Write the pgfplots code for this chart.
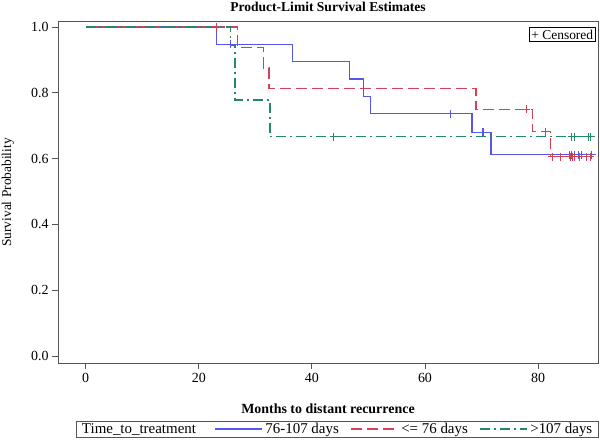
\documentclass[border=0pt]{standalone}
\usepackage{fontspec}
\setmainfont{Liberation Serif}
\usepackage{pgfplots}
\pgfplotsset{compat=1.18}
\definecolor{cblue}{RGB}{85,85,240}
\definecolor{cred}{RGB}{210,65,85}
\definecolor{cgreen}{RGB}{35,135,105}
\definecolor{cframe}{RGB}{85,85,85}
\begin{document}
\begin{tikzpicture}[font=\fontsize{14}{16}\selectfont]
\useasboundingbox (-58bp,-79.7bp) rectangle (542bp,363.3bp);
\begin{axis}[
  at={(0,0)}, anchor=south west, scale only axis,
  width=540bp, height=341.6bp,
  font=\fontsize{14}{16}\selectfont,
  xmin=-4.9, xmax=90.6, ymin=-0.022, ymax=1.016,
  xtick={0,20,40,60,80}, ytick={0,0.2,0.4,0.6,0.8,1.0},
  yticklabel style={/pgf/number format/.cd, fixed, fixed zerofill, precision=1},
  ticklabel style={font=\fontsize{14}{16}\selectfont},
  /pgf/number format/assume math mode=true,
  tick align=outside, xtick pos=bottom, ytick pos=left,
  major tick length=6bp,
  axis line style={cframe, line width=1pt},
  every tick/.style={cframe, line width=0.9pt},
  title={\bfseries Product-Limit Survival Estimates},
  title style={at={(axis description cs:0.5,1.0284)}, anchor=base, yshift=-5pt,
    font=\fontsize{13.6}{15}\selectfont},
  xlabel={\bfseries Months to distant recurrence},
  xlabel style={at={(axis description cs:0.5,-0.1338)}, anchor=center},
  ylabel={Survival Probability},
  ylabel style={at={(axis description cs:-0.0926,0.5)}, anchor=center, rotate=0,
    font=\fontsize{13.5}{15}\selectfont},
  legend columns=4,
  legend style={name=leg, at={(axis description cs:1,-0.169)}, anchor=north east,
    draw=none, inner xsep=2.5bp, inner ysep=1bp,
    font=\fontsize{15}{17}\selectfont,
    nodes={inner xsep=3bp, inner ysep=1bp},
    /tikz/column 2/.style={column sep=15bp},
    /tikz/column 4/.style={column sep=8bp},
    /tikz/column 6/.style={column sep=8bp}},
  legend image code/.code={\draw[#1, line width=1.4bp] (0bp,0bp) -- (47bp,0bp);},
]
\addlegendimage{empty legend}
\addlegendentry{Time\_to\_treatment}

\addplot[draw=cblue, line width=1.4bp, const plot] coordinates {
  (0,1) (23.1,0.947) (36.6,0.895) (46.6,0.842) (49.1,0.789) (50.4,0.737)
  (68.3,0.680) (71.7,0.612) (89.7,0.612)};
\addlegendentry{76-107 days}

\addplot[draw=cred, line width=1.4bp, const plot, dash pattern=on 11bp off 5bp] coordinates {
  (0,1) (26.8,0.9375) (31.4,0.875) (32.4,0.8125) (69.0,0.75) (79.0,0.682)
  (82.2,0.606) (89.5,0.606)};
\addlegendentry{<= 76 days}

\addplot[draw=cgreen, line width=1.4bp, const plot, dash pattern=on 10bp off 4bp on 2bp off 4bp] coordinates {
  (0,1) (25.6,0.944) (26.4,0.778) (32.6,0.667) (89.7,0.667)};
\addlegendentry{>107 days}

% censored marks
\addplot[draw=cblue, only marks, mark=+, mark size=4bp, mark options={solid, draw=cblue, line width=1bp}, forget plot] coordinates {
  (25.6,0.947) (64.5,0.737) (70.1,0.680) (70.4,0.680)
  (85.5,0.612) (86.0,0.612) (86.5,0.612) (87.1,0.612) (87.7,0.612) (89.5,0.612)};
\addplot[draw=cred, only marks, mark=+, mark size=4bp, mark options={solid, draw=cred, line width=1bp}, forget plot] coordinates {
  (23.1,1.0) (77.9,0.75) (81.3,0.682)
  (82.5,0.606) (83.9,0.606) (85.7,0.606) (86.1,0.606) (86.5,0.606) (87.4,0.606) (88.6,0.606) (89.2,0.606)};
\addplot[draw=cgreen, only marks, mark=+, mark size=4bp, mark options={solid, draw=cgreen, line width=1bp}, forget plot] coordinates {
  (43.9,0.667) (86.0,0.667) (86.5,0.667) (88.9,0.667) (89.3,0.667)};

\node[draw=black, line width=0.7pt, inner sep=2.5bp, anchor=north east, fill=white,
  font=\fontsize{13.5}{15}\selectfont]
  at (axis description cs:0.9963,0.9845) {+ Censored};
\end{axis}
\draw[cframe, line width=1pt] (leg.south west) rectangle (leg.north east);
\end{tikzpicture}
\end{document}
